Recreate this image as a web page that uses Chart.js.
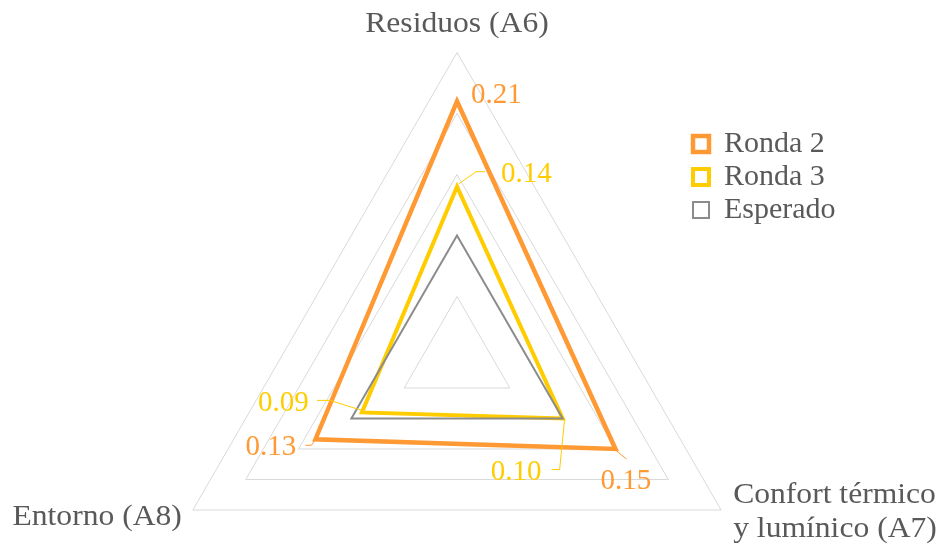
<!DOCTYPE html>
<html>
<head>
<meta charset="utf-8">
<script src="https://cdn.jsdelivr.net/npm/chart.js@4"></script>
<style>
  html, body { margin: 0; padding: 0; background: #fff; }
  #wrap { position: relative; width: 937px; height: 552px; }
</style>
</head>
<body>
<div id="wrap"><canvas id="radar"></canvas></div>
<script>
// axis categories (clockwise from the top)
const categories = ['Residuos (A6)', ['Confort térmico', 'y lumínico (A7)'], 'Entorno (A8)'];

// series values
const ronda2 = [0.21, 0.15, 0.134];
const ronda3 = [0.14, 0.10, 0.09];
const esperado = [0.10, 0.10, 0.10];

// radial scale: 0 .. 0.25, one triangle every 0.05
const scaleMin = 0;
const scaleMax = 0.25;
const scaleStep = 0.05;

const FONT = "'Liberation Serif', 'Times New Roman', serif";
const TEXT_GREY = '#595959';

// where each data label sits relative to its point, plus its leader line
const dataLabelLayout = {
  0: [
    { dx: 14, dy: 2, leader: null },
    { dx: -15, dy: 40, leader: [[1, 2], [11, 10]] },
    { dx: -70, dy: 16, leader: [[-10, 6], [-4, 6], [1, -1]] }
  ],
  1: [
    { dx: 44, dy: -5, leader: [[2, -3], [19, -15], [28, -15]] },
    { dx: -72, dy: 61, leader: [[2, 0], [-3, 51], [-11, 51]] },
    { dx: -104, dy: -1, leader: [[-45, -12], [-32, -12], [0, -2]] }
  ]
};

// axis title offsets from the outer triangle corners
const axisLabelLayout = [
  { dx: 0, dy: -21, align: 'center' },
  { dx: 12, dy: -7, align: 'left' },
  { dx: -11, dy: 15, align: 'right' }
];

const textPlugin = {
  id: 'textPlugin',
  afterLayout(chart) {
    // park the legend on the right like the original
    const lg = chart.legend;
    if (!lg) return;
    const w = lg.width;
    lg.left = 690; lg.right = 690 + w;
    lg.top = 126; lg.bottom = 552;
  },
  afterDatasetsDraw(chart) {
    const ctx = chart.ctx;
    const r = chart.scales.r;
    ctx.save();
    ctx.font = '29px ' + FONT;
    ctx.textBaseline = 'alphabetic';

    // value labels + leader lines
    Object.keys(dataLabelLayout).forEach(di => {
      const ds = chart.data.datasets[di];
      const meta = chart.getDatasetMeta(di);
      dataLabelLayout[di].forEach((lay, i) => {
        const pt = meta.data[i];
        ctx.fillStyle = ds.borderColor;
        ctx.textAlign = 'left';
        ctx.fillText(ds.data[i].toFixed(2), pt.x + lay.dx, pt.y + lay.dy);
        if (lay.leader) {
          ctx.strokeStyle = ds.borderColor;
          ctx.lineWidth = 1;
          ctx.beginPath();
          lay.leader.forEach((p, k) => {
            if (k === 0) ctx.moveTo(pt.x + p[0], pt.y + p[1]);
            else ctx.lineTo(pt.x + p[0], pt.y + p[1]);
          });
          ctx.stroke();
        }
      });
    });

    // axis titles (the original's are a touch wider than the font)
    ctx.fillStyle = TEXT_GREY;
    chart.data.labels.forEach((lbl, i) => {
      const p = r.getPointPosition(i, r.drawingArea);
      const lay = axisLabelLayout[i];
      ctx.textAlign = lay.align;
      const lines = Array.isArray(lbl) ? lbl : [lbl];
      lines.forEach((t, k) => {
        ctx.save();
        ctx.translate(p.x + lay.dx, p.y + lay.dy + k * 33.5);
        ctx.scale(1.09, 1);
        ctx.fillText(t, 0, 0);
        ctx.restore();
      });
    });
    ctx.restore();
  }
};

new Chart(document.getElementById('radar'), {
  type: 'radar',
  data: {
    labels: categories,
    datasets: [
      { label: 'Ronda 2', data: ronda2, borderColor: '#FF9933', backgroundColor: '#ffffff', borderWidth: 4.5, order: 3 },
      { label: 'Ronda 3', data: ronda3, borderColor: '#FFCC00', backgroundColor: '#ffffff', borderWidth: 4, order: 2 },
      { label: 'Esperado', data: esperado, borderColor: '#8C8C8C', backgroundColor: '#ffffff', borderWidth: 2, order: 1 }
    ]
  },
  options: {
    responsive: true,
    maintainAspectRatio: false,
    animation: false,
    events: [],
    elements: {
      line: { fill: false, tension: 0, borderJoinStyle: 'miter' },
      point: { radius: 0, hoverRadius: 0 }
    },
    scales: {
      r: {
        min: scaleMin,
        max: scaleMax,
        ticks: { stepSize: scaleStep, display: false },
        grid: { color: '#D9D9D9', lineWidth: 1 },
        angleLines: { display: false },
        pointLabels: { display: false },
        afterFit(scale) {
          scale.xCenter = 457;
          scale.yCenter = 357.5;
          scale.drawingArea = 305;
        }
      }
    },
    plugins: {
      tooltip: { enabled: false },
      legend: {
        position: 'right',
        align: 'start',
        labels: {
          boxWidth: 16,
          boxHeight: 16,
          padding: 3,
          color: TEXT_GREY,
          font: { family: FONT, size: 30 },
          sort: (a, b) => a.datasetIndex - b.datasetIndex
        }
      }
    }
  },
  plugins: [textPlugin]
});
</script>
</body>
</html>
